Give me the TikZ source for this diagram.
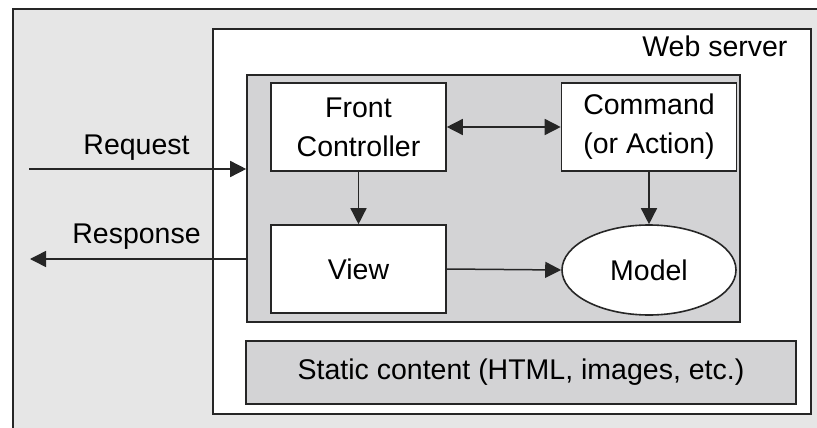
\documentclass[tikz,border=0pt]{standalone}
\usepackage{fontspec}
\setmainfont{Liberation Sans}
\usepackage{tikz}
\usetikzlibrary{arrows.meta}
\usetikzlibrary{shapes.geometric}

\definecolor{outergray}{HTML}{E6E6E6}
\definecolor{innergray}{HTML}{D3D3D5}
\definecolor{linegray}{HTML}{262626}

\tikzset{
    part/.style={draw=linegray, line width=1.6pt, fill=white, minimum width=175pt, minimum height=88pt, align=center, inner sep=0pt},
    arr/.style={draw=linegray, line width=1.5pt, -{Triangle[length=16pt,width=16pt]}},
    biarr/.style={draw=linegray, line width=1.5pt, {Triangle[length=16pt,width=16pt]}-{Triangle[length=16pt,width=16pt]}}
}

\begin{document}
\begin{tikzpicture}[x=1pt,y=-1pt,font=\fontsize{28.5}{39}\selectfont]
            \useasboundingbox (0,0) rectangle (817,428);
            \fill[white] (0,0) rectangle (817,428);
            \fill[outergray] (13,9) rectangle (817,428);
            \draw[linegray, line width=1.6pt] (13,428) -- (13,9) -- (817,9);
            \node[draw=linegray, line width=1.6pt, fill=white, minimum width=598pt, minimum height=385pt, inner sep=0pt] (server) at (512,221.5) {};
            \node[anchor=east] (servername) at (791,46) {Web server};
            \node[draw=linegray, line width=1.6pt, fill=innergray, minimum width=493pt, minimum height=247pt, inner sep=0pt] (core) at (493.5,198.5) {};
            \node[part] (front) at (358.5,127) {Front\\Controller};
            \node[part] (command) at (649,127) {Command\\(or Action)};
            \node[part] (view) at (358.5,269) {View};
            \node[part, ellipse, minimum width=174pt, minimum height=90pt] (model) at (649,270) {Model};
            \node[draw=linegray, line width=1.6pt, fill=innergray, minimum width=550pt, minimum height=63pt, inner sep=0pt] (static) at (521,372.5) {Static content (HTML, images, etc.)};
            \coordinate (client in) at (29,169);
            \coordinate (client out) at (30,259);
            \draw[arr] (client in) -- (client in -| core.west);
            \node (request) at (136.5,148) {Request};
            \draw[arr] (client out -| core.west) -- (client out);
            \node (response) at (136.5,237) {Response};
            \draw[biarr] (front.east) -- (command.west);
            \draw[arr] (front.south) -- (view.north);
            \draw[arr] (command.south) -- (model.north);
            \draw[arr] (view.east) -- (model.west);
        \end{tikzpicture}
\end{document}
